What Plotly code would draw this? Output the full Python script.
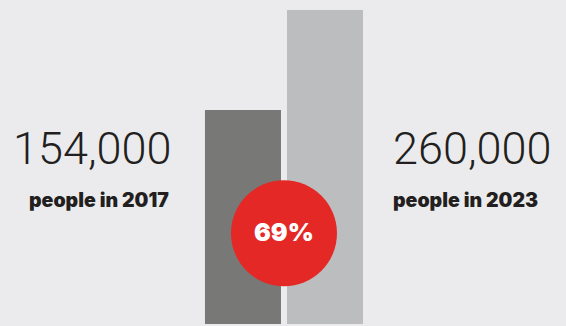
import plotly.graph_objects as go

years = ["2017", "2023"]
people = [154000, 260000]
value_labels = ["154,000", "260,000"]
sub_labels = ["people in 2017", "people in 2023"]
growth_label = "69%"

BG = "#ebebed"
BAR_COLORS = ["#787876", "#bcbdbf"]
RED = "#e32826"

W, H = 566, 326
# axis scale: bars are not drawn from zero in the original graphic
y_min, y_max = -74960, 270600
bar_base = -72840
x_min, x_max = -2.963, 3.939

fig = go.Figure()
fig.add_trace(go.Bar(
    x=years,
    y=[v - bar_base for v in people],
    base=bar_base,
    marker=dict(color=BAR_COLORS, line=dict(width=0)),
    width=0.927,
    hoverinfo="skip",
))

fig.update_layout(
    width=W, height=H,
    margin=dict(l=0, r=0, t=0, b=0),
    paper_bgcolor=BG, plot_bgcolor=BG,
    showlegend=False,
    xaxis=dict(range=[x_min, x_max], visible=False, type="category"),
    yaxis=dict(range=[y_min, y_max], visible=False),
)

# circle between the bars
fig.add_shape(
    type="circle",
    xref="x", yref="paper",
    xsizemode="pixel", ysizemode="pixel",
    xanchor=0.5, yanchor=1 - 233.3 / H,
    x0=-53, x1=53, y0=-53, y1=53,
    fillcolor=RED, line=dict(width=0), layer="above",
)

big_font = dict(family="Roboto", size=45, color="#231f20", weight=300)
sub_font = dict(family="Inter", size=19.5, color="#231f20", weight=900)

fig.add_annotation(text=value_labels[0], xref="paper", yref="paper",
                   x=173 / W, y=1 - 148 / H, xanchor="right", yanchor="middle",
                   showarrow=False, font=big_font)
fig.add_annotation(text=sub_labels[0], xref="paper", yref="paper",
                   x=171 / W, y=1 - 200 / H, xanchor="right", yanchor="middle",
                   showarrow=False, font=sub_font)
fig.add_annotation(text=value_labels[1], xref="paper", yref="paper",
                   x=391 / W, y=1 - 148 / H, xanchor="left", yanchor="middle",
                   showarrow=False, font=big_font)
fig.add_annotation(text=sub_labels[1], xref="paper", yref="paper",
                   x=391 / W, y=1 - 200 / H, xanchor="left", yanchor="middle",
                   showarrow=False, font=sub_font)
fig.add_annotation(text=growth_label, xref="x", yref="paper",
                   x=0.5, y=1 - 232 / H, xanchor="center", yanchor="middle",
                   showarrow=False,
                   font=dict(family="Inter", size=25, color="white", weight=900))

fig.write_html("out.html")
